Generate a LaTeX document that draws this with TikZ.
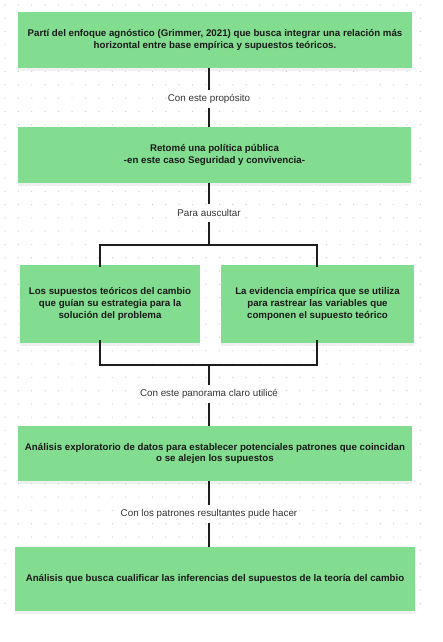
\documentclass[tikz,border=0pt]{standalone}
\usepackage{fontspec}
\setmainfont{Liberation Sans}
\usepackage{tikz}
\usetikzlibrary{positioning, shadows}
\definecolor{boxgreen}{RGB}{130,221,144}
\definecolor{linedark}{RGB}{28,28,28}
\definecolor{dotgrey}{RGB}{200,200,200}
\begin{document}
\begin{tikzpicture}[
x=1pt, y=-1pt,
greenbox/.style={rectangle,
  fill=boxgreen,
  align=center,
  inner sep=0pt,
  font=\fontsize{9.7}{11.8}\selectfont\bfseries,
  text=black!90,
  drop shadow={opacity=0.12, shadow xshift=0pt, shadow yshift=-2.5pt}
},
linklabel/.style={rectangle,
  inner sep=0pt,
  minimum height=17pt,
  font=\fontsize{9.8}{11}\selectfont,
  text=black!80
},
link/.style={draw=linedark, line width=1.5pt}
]
\useasboundingbox (0,0) rectangle (442,642);

\foreach \i in {0,...,31}
  \foreach \j in {0,...,45}
    \fill[dotgrey] (5+13.4*\i, 5+13.3*\j) circle (0.6);

\node[greenbox, minimum width=394pt, minimum height=56pt] (agnostic) at (215,40)
    {Partí del enfoque agnóstico (Grimmer, 2021) que busca integrar una relación más\\horizontal entre base empírica y supuestos teóricos.};
\node[greenbox, minimum width=393pt, minimum height=56pt] (policy) at (214.5,155)
    {Retomé una política pública\\-en este caso Seguridad y convivencia-};
\node[greenbox, minimum width=180pt, minimum height=78pt] (theory) at (110,304)
    {Los supuestos teóricos del cambio\\que guían su estrategia para la\\solución del problema};
\node[greenbox, minimum width=193pt, minimum height=78pt] (evidence) at (317.5,304)
    {La evidencia empírica que se utiliza\\para rastrear las variables que\\componen el supuesto teórico};
\node[greenbox, minimum width=394pt, minimum height=55pt] (explore) at (215,453.5)
    {Análisis exploratorio de datos para establecer potenciales patrones que coincidan\\o se alejen los supuestos};
\node[greenbox, minimum width=400pt, minimum height=64pt] (qualify) at (215,579)
    {Análisis que busca cualificar las inferencias del supuestos de la teoría del cambio};

\node[linklabel] (purpose) at (209,99)
    {Con este propósito};
\node[linklabel] (listen) at (209,213)
    {Para auscultar};
\node[linklabel] (panorama) at (209,394)
    {Con este panorama claro utilicé};
\node[linklabel] (patterns) at (209,514)
    {Con los patrones resultantes pude hacer};

\coordinate (splitL) at (100,245);
\coordinate (splitR) at (317,245);
\coordinate (joinL) at (100,365);
\coordinate (joinR) at (317,365);

\draw[link] (agnostic.south -| purpose) -- (purpose.north);
\draw[link] (purpose.south) -- (policy.north -| purpose);

\draw[link] (policy.south -| listen) -- (listen.north);
\draw[link] (listen.south) -- (listen |- splitL);
\draw[link] ([yshift=-2pt]splitL |- theory.north) -- (splitL) -- (splitR) -- ([yshift=-2pt]splitR |- evidence.north);

\draw[link] ([yshift=3pt]joinL |- theory.south) -- (joinL) -- (joinR) -- ([yshift=3pt]joinR |- evidence.south);
\draw[link] (panorama |- joinL) -- (panorama.north);
\draw[link] (panorama.south) -- (explore.north -| panorama);

\draw[link] (explore.south -| patterns) -- (patterns.north);
\draw[link] (patterns.south) -- (qualify.north -| patterns);
\end{tikzpicture}
\end{document}
